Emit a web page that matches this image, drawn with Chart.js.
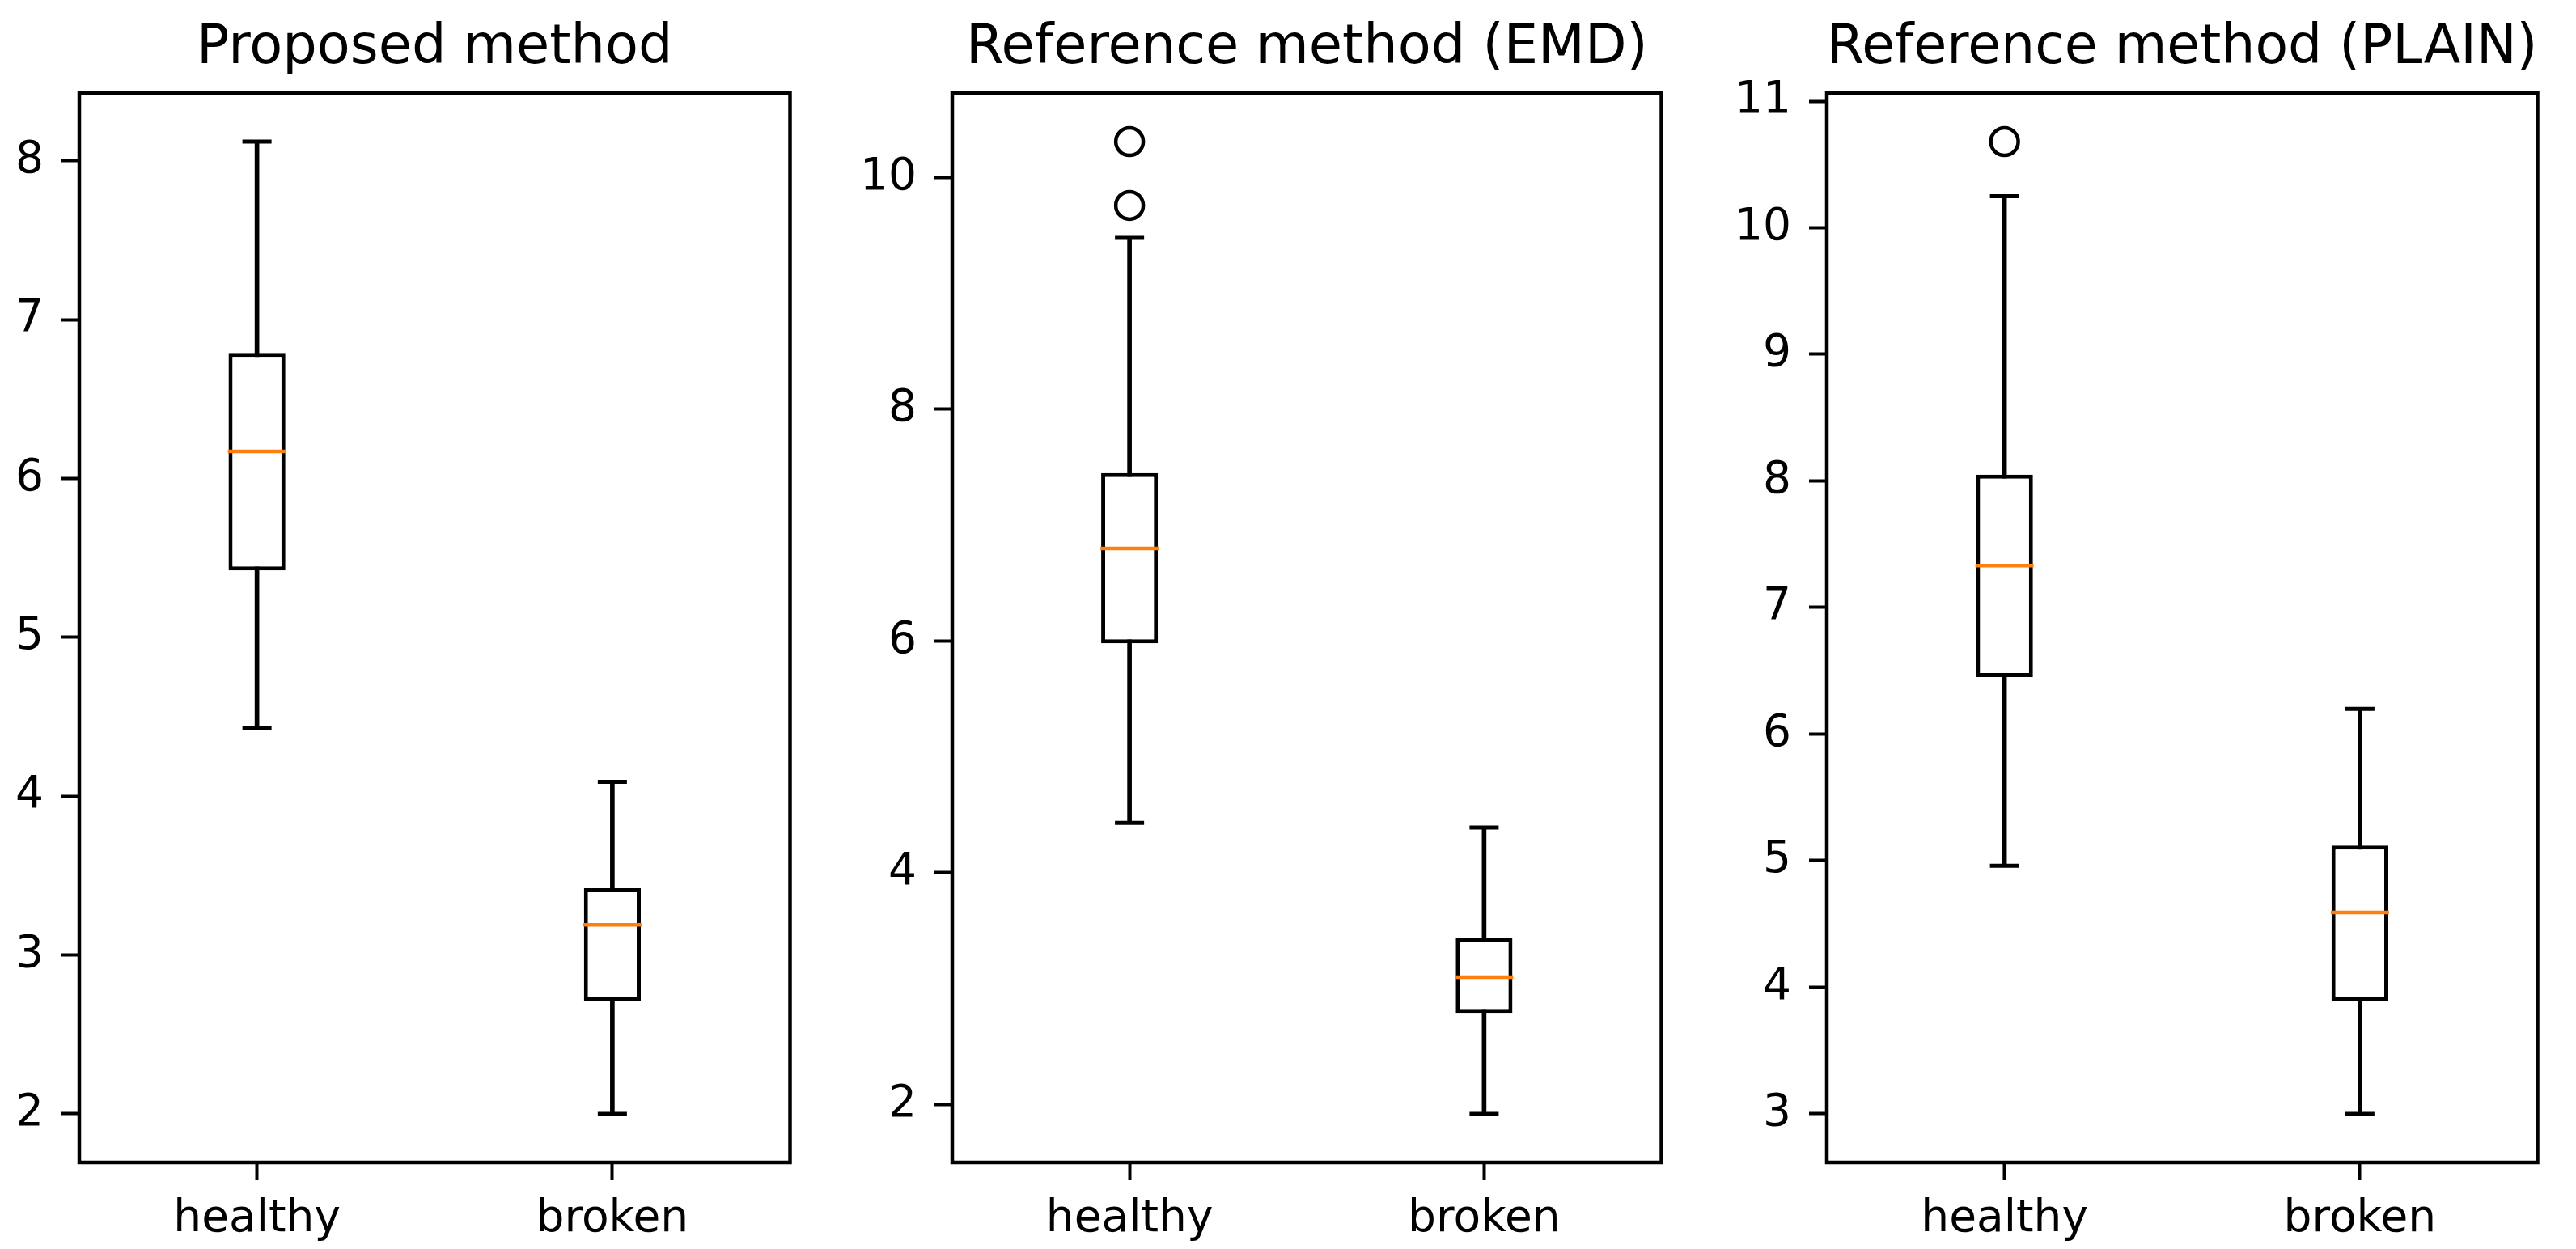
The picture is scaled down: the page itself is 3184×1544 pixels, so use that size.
<!DOCTYPE html>
<html lang="en">
<head>
    <meta charset="UTF-8">
    <title>healthy vs broken - box plots</title>
    <script src="https://cdn.jsdelivr.net/npm/chart.js@4.4.1/dist/chart.umd.min.js"></script>
    <style>
        body {
            margin: 0;
            background: #ffffff;
            width: 3184px;
            height: 1544px;
            position: relative;
            overflow: hidden;
        }
        canvas {
            position: absolute;
            top: 0;
        }
    </style>
</head>
<body>
    <canvas id="c1"></canvas>
    <canvas id="c2"></canvas>
    <canvas id="c3"></canvas>

    <script>
        const categories = ['healthy', 'broken'];
        const titles = ['Proposed method', 'Reference method (EMD)', 'Reference method (PLAIN)'];

        // [lower whisker, Q1, median, Q3, upper whisker]
        const proposedHealthy = [4.43, 5.42, 6.17, 6.79, 8.12];
        const proposedBroken = [2.00, 2.71, 3.19, 3.42, 4.09];
        const emdHealthy = [4.43, 5.98, 6.80, 7.45, 9.48];
        const emdBroken = [1.92, 2.79, 3.10, 3.44, 4.39];
        const plainHealthy = [4.96, 6.45, 7.33, 8.05, 10.25];
        const plainBroken = [3.00, 3.89, 4.59, 5.12, 6.20];

        // outliers
        const proposedFliers = [];
        const emdFliers = [{x: 'healthy', y: 10.31}, {x: 'healthy', y: 9.76}];
        const plainFliers = [{x: 'healthy', y: 10.68}];

        // y tick labels
        const proposedTicks = [2, 3, 4, 5, 6, 7, 8];
        const emdTicks = [2, 4, 6, 8, 10];
        const plainTicks = [3, 4, 5, 6, 7, 8, 9, 10, 11];

        const FONT = "'DejaVu Sans', sans-serif";
        const PAGE_H = 1544;
        const AXES_BOTTOM = 1437;
        const Y_AXIS_W = 150;
        const PAD_R = 12;
        const LINE_W = 5;

        const panels = [
            {id: 'c1', title: titles[0], stats: [proposedHealthy, proposedBroken], fliers: proposedFliers, ticks: proposedTicks, left: 98, right: 1005},
            {id: 'c2', title: titles[1], stats: [emdHealthy, emdBroken], fliers: emdFliers, ticks: emdTicks, left: 1177, right: 2082},
            {id: 'c3', title: titles[2], stats: [plainHealthy, plainBroken], fliers: plainFliers, ticks: plainTicks, left: 2258, right: 3165}
        ];

        // black frame round the plot area (matplotlib spines)
        const framePlugin = {
            id: 'frame',
            afterDatasetsDraw(chart) {
                const {ctx, chartArea: a} = chart;
                ctx.save();
                ctx.strokeStyle = '#000';
                ctx.lineWidth = 4.5;
                ctx.strokeRect(a.left, a.top, a.right - a.left, a.bottom - a.top);
                ctx.restore();
            }
        };

        function buildChart(p) {
            const canvas = document.getElementById(p.id);
            canvas.width = p.right - p.left + Y_AXIS_W + PAD_R;
            canvas.height = PAGE_H;
            canvas.style.left = (p.left - Y_AXIS_W) + 'px';

            const values = p.stats.flat().concat(p.fliers.map(f => f.y));
            const lo = Math.min(...values);
            const hi = Math.max(...values);
            const margin = (hi - lo) * 0.05;
            const col = i => p.stats.map(s => s[i]);

            new Chart(canvas, {
                type: 'bar',
                data: {
                    labels: categories,
                    datasets: [
                        {
                            type: 'line', data: p.fliers, showLine: false,
                            pointStyle: 'circle', pointRadius: 17, pointBorderWidth: 4.5,
                            pointBorderColor: '#000', pointBackgroundColor: 'rgba(0,0,0,0)'
                        },
                        {
                            type: 'line', data: col(2), showLine: false,
                            pointStyle: 'line', pointRadius: 36, pointBorderWidth: 4.5,
                            pointBorderColor: '#ff7f0e'
                        },
                        {
                            type: 'line', data: col(0), showLine: false,
                            pointStyle: 'line', pointRadius: 18, pointBorderWidth: LINE_W,
                            pointBorderColor: '#000'
                        },
                        {
                            type: 'line', data: col(4), showLine: false,
                            pointStyle: 'line', pointRadius: 18, pointBorderWidth: LINE_W,
                            pointBorderColor: '#000'
                        },
                        {
                            // box Q1..Q3
                            data: p.stats.map(s => [s[1], s[3]]),
                            backgroundColor: '#fff', borderColor: '#000', borderWidth: LINE_W,
                            borderSkipped: false, barPercentage: 0.16, categoryPercentage: 1, grouped: false
                        },
                        {
                            // whisker line
                            data: p.stats.map(s => [s[0], s[4]]),
                            backgroundColor: '#000', barThickness: LINE_W,
                            categoryPercentage: 1, grouped: false
                        }
                    ]
                },
                options: {
                    responsive: false,
                    animation: false,
                    events: [],
                    layout: {padding: {left: 0, right: PAD_R, top: 0, bottom: 0}},
                    plugins: {
                        legend: {display: false},
                        tooltip: {enabled: false},
                        title: {
                            display: true,
                            fullSize: false,   // centre over the plot area, not the canvas
                            text: p.title,
                            color: '#000',
                            font: {family: FONT, size: 67, weight: 'normal', lineHeight: 1.2},
                            padding: {top: 20, bottom: 14.6}
                        }
                    },
                    scales: {
                        x: {
                            type: 'category',
                            offset: true,
                            grid: {display: true, drawOnChartArea: false, drawTicks: true, tickLength: 22, tickWidth: 4, tickColor: '#000', offset: false},
                            border: {display: false},
                            ticks: {color: '#000', font: {family: FONT, size: 55}, padding: 16, maxRotation: 0},
                            afterFit: s => { s.height = PAGE_H - AXES_BOTTOM; }
                        },
                        y: {
                            min: lo - margin,
                            max: hi + margin,
                            grid: {display: true, drawOnChartArea: false, drawTicks: true, tickLength: 22, tickWidth: 4, tickColor: '#000'},
                            border: {display: false},
                            ticks: {color: '#000', font: {family: FONT, size: 55}, padding: 22},
                            afterBuildTicks: s => { s.ticks = p.ticks.map(v => ({value: v})); },
                            afterFit: s => { s.width = Y_AXIS_W; }
                        }
                    }
                },
                plugins: [framePlugin]
            });
        }

        panels.forEach(buildChart);
    </script>
</body>
</html>
